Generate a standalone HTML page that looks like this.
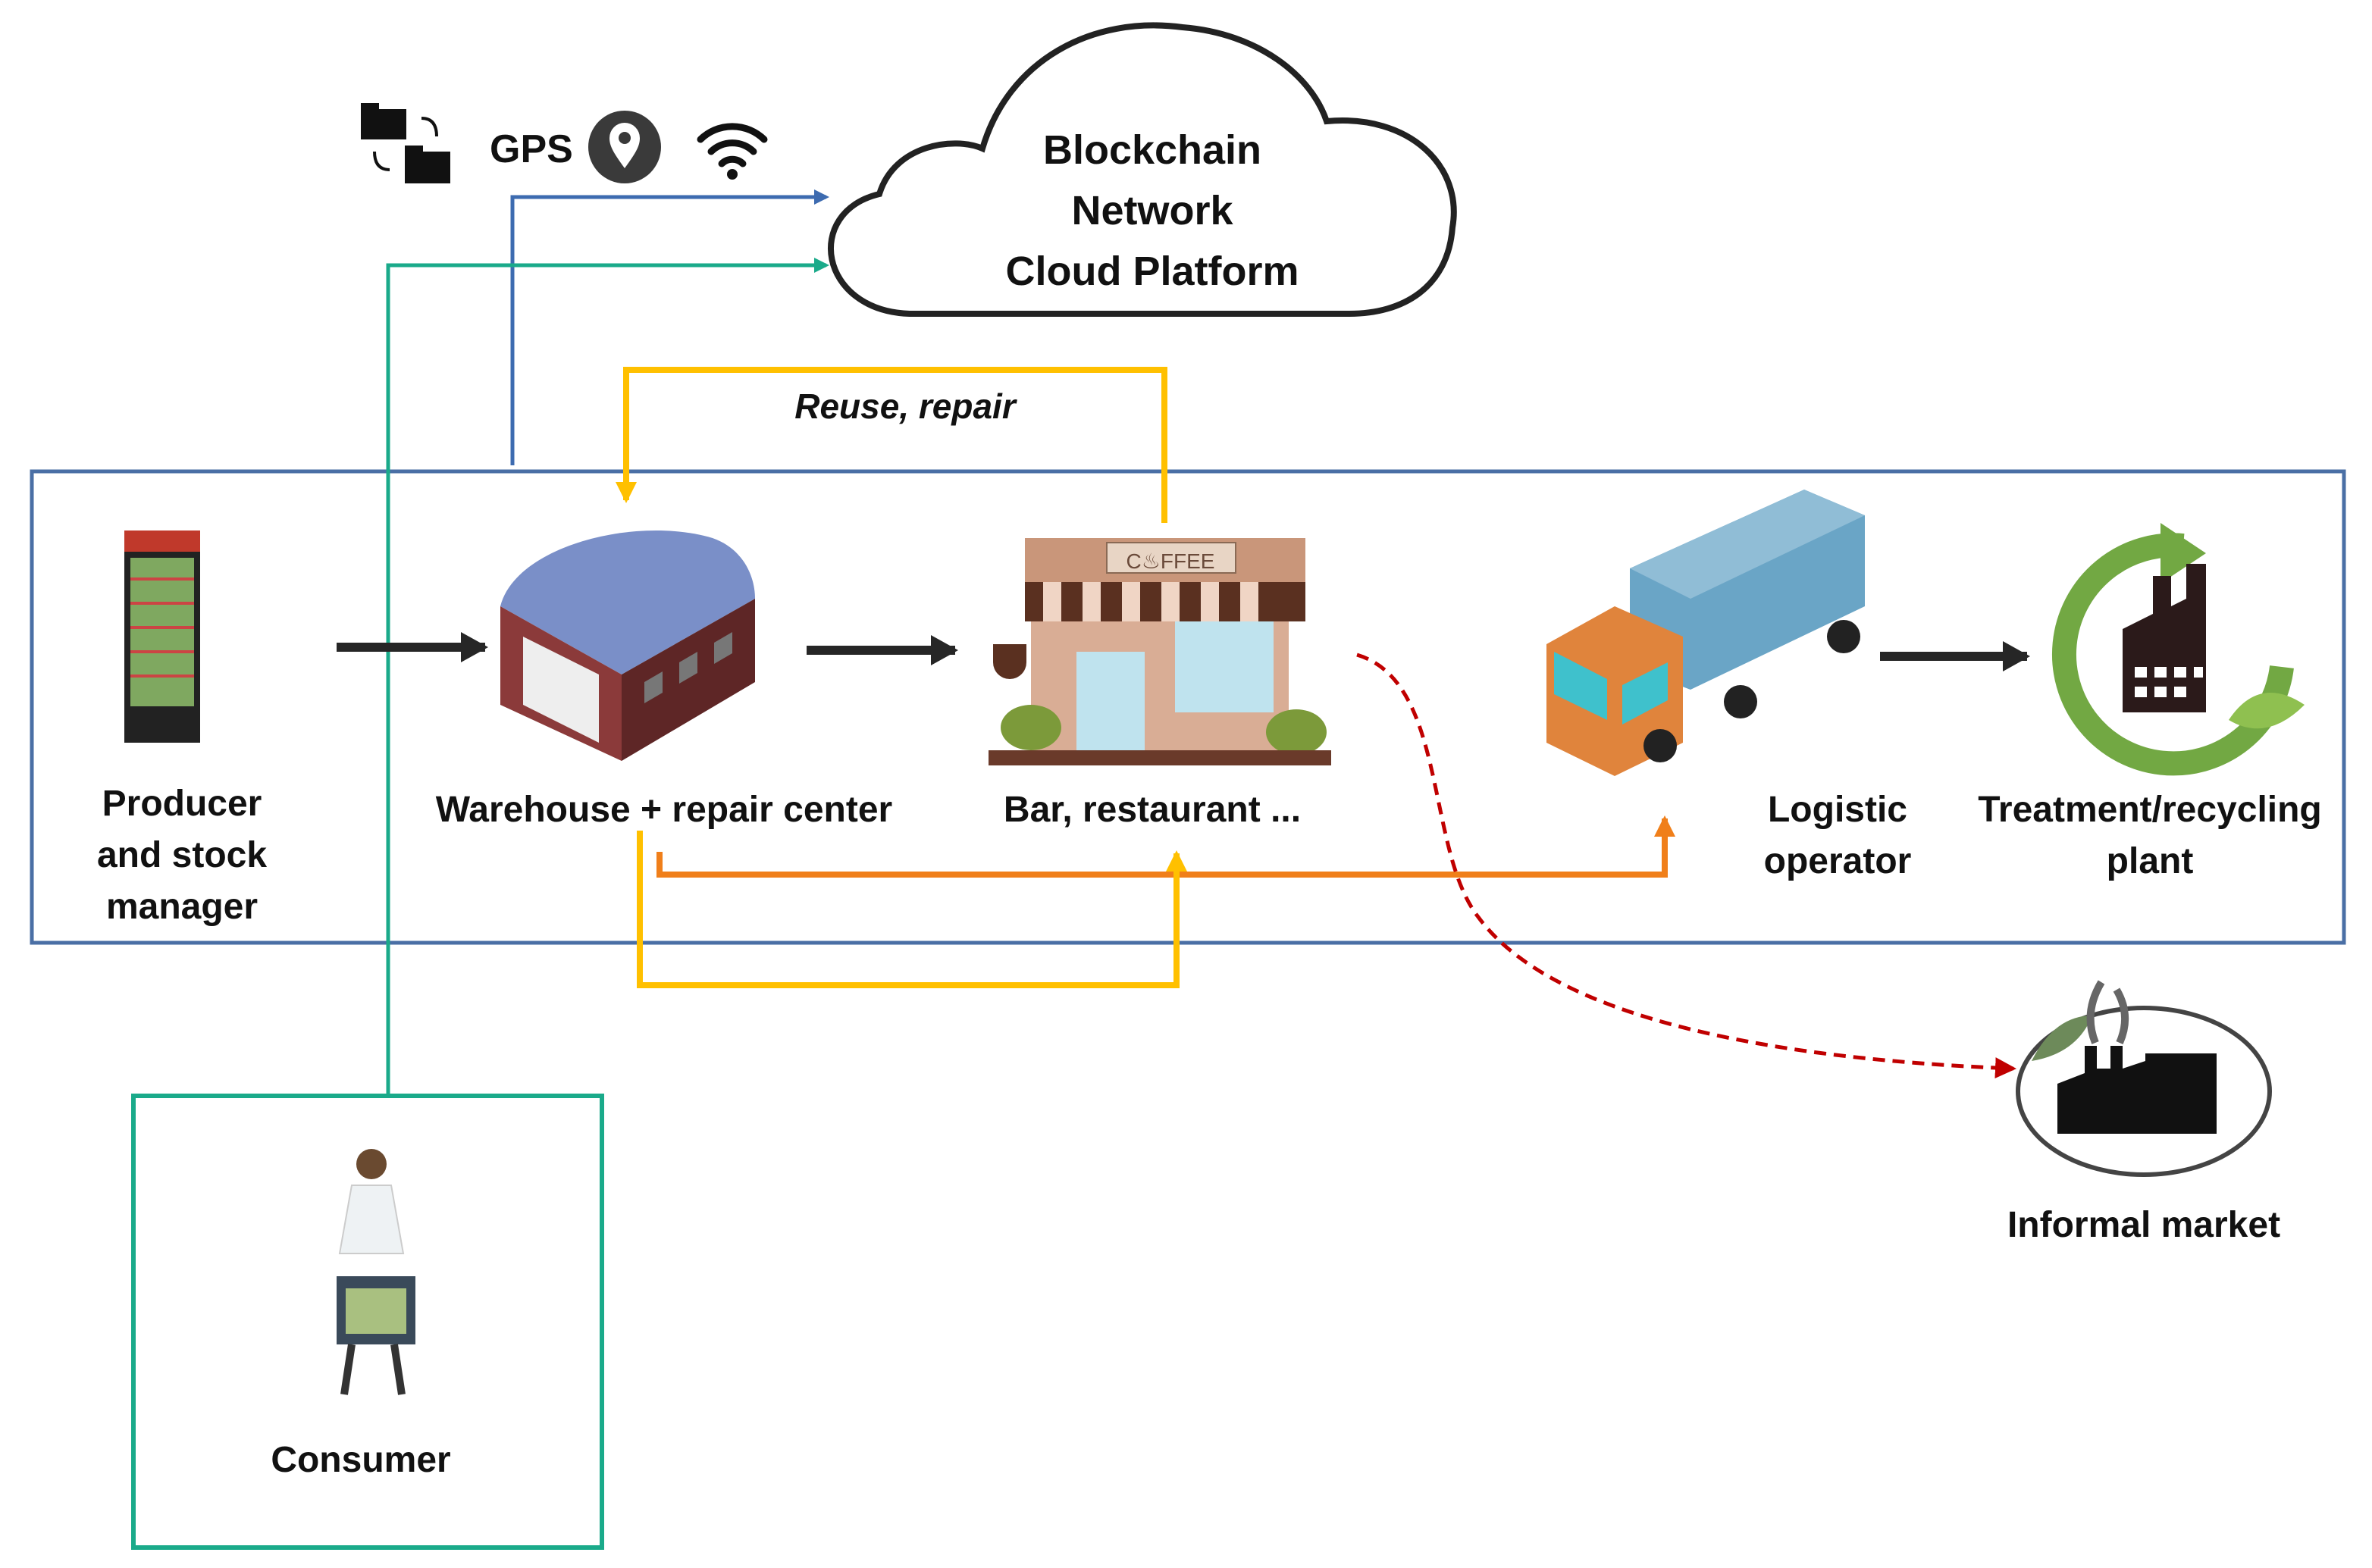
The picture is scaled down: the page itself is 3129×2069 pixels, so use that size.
<!DOCTYPE html>
<html><head><meta charset="utf-8"><style>html,body{margin:0;padding:0;background:#fff}svg{display:block}</style></head>
<body>
<svg width="3129" height="2069" viewBox="0 0 1564.5 1034.5" xmlns="http://www.w3.org/2000/svg" font-family="Liberation Sans, sans-serif">
<defs>
<marker id="ab" markerWidth="10" markerHeight="10" refX="8" refY="5" orient="auto" markerUnits="userSpaceOnUse"><path d="M0,0 L10,5 L0,10z" fill="#3d6bb0"/></marker>
<marker id="at" markerWidth="10" markerHeight="10" refX="8" refY="5" orient="auto" markerUnits="userSpaceOnUse"><path d="M0,0 L10,5 L0,10z" fill="#1aaa8a"/></marker>
<marker id="ay" markerWidth="14" markerHeight="14" refX="12" refY="7" orient="auto" markerUnits="userSpaceOnUse"><path d="M0,0 L14,7 L0,14z" fill="#ffc000"/></marker>
<marker id="ao" markerWidth="14" markerHeight="14" refX="12" refY="7" orient="auto" markerUnits="userSpaceOnUse"><path d="M0,0 L14,7 L0,14z" fill="#f07f1a"/></marker>
<marker id="ar" markerWidth="14" markerHeight="14" refX="12" refY="7" orient="auto" markerUnits="userSpaceOnUse"><path d="M0,0 L14,7 L0,14z" fill="#c00000"/></marker>
<marker id="ak" markerWidth="18" markerHeight="20" refX="16" refY="10" orient="auto" markerUnits="userSpaceOnUse"><path d="M0,0 L18,10 L0,20z" fill="#262626"/></marker>
</defs>
<rect width="1564.5" height="1034.5" fill="#fff"/>
<!-- main box -->
<rect x="21" y="311" width="1525" height="311" fill="none" stroke="#4a6fa5" stroke-width="2.5"/>
<!-- cloud -->
<path d="M600,207 C540,205 530,140 580,128 C590,95 630,90 648,98 C665,40 720,10 780,18 C830,22 865,50 875,80 C930,75 965,110 958,150 C955,190 925,207 890,207 Z" fill="#fff" stroke="#222" stroke-width="4"/>
<g font-weight="bold" font-size="27" text-anchor="middle" fill="#111">
<text x="760" y="108">Blockchain</text><text x="760" y="148">Network</text><text x="760" y="188">Cloud Platform</text></g>
<!-- icons -->
<rect x="238" y="72" width="30" height="20" fill="#111"/><rect x="238" y="68" width="12" height="6" fill="#111"/>
<rect x="267" y="100" width="30" height="21" fill="#111"/><rect x="267" y="96" width="12" height="6" fill="#111"/>
<path d="M278,78 q10,0 10,12" stroke="#111" stroke-width="2" fill="none"/><path d="M257,112 q-10,0 -10,-12" stroke="#111" stroke-width="2" fill="none"/>
<text x="323" y="107" font-weight="bold" font-size="26" fill="#111">GPS</text>
<circle cx="412" cy="97" r="24" fill="#3a3a3a"/><path d="M412,111 C404,100 402,96 402,91 a10,10 0 0 1 20,0 C422,96 420,100 412,111z" fill="#fff"/><circle cx="412" cy="91" r="4" fill="#3a3a3a"/>
<g fill="none" stroke="#111" stroke-width="4.5" stroke-linecap="round"><path d="M462,92 a30,30 0 0 1 42,0"/><path d="M469,100 a20,20 0 0 1 28,0"/><path d="M476,108 a10,10 0 0 1 14,0"/></g><circle cx="483" cy="115" r="3.5" fill="#111"/>
<!-- blue & teal lines -->
<path d="M338,307 V130 H545" fill="none" stroke="#3d6bb0" stroke-width="2.5" marker-end="url(#ab)"/>
<path d="M256,722 V175 H545" fill="none" stroke="#1aaa8a" stroke-width="2.5" marker-end="url(#at)"/>
<!-- reuse repair -->
<path d="M768,345 V244 H413 V330" fill="none" stroke="#ffc000" stroke-width="4" marker-end="url(#ay)"/>
<text x="597" y="276" font-weight="bold" font-style="italic" font-size="23" text-anchor="middle" fill="#111">Reuse, repair</text>
<!-- fridge -->
<rect x="82" y="350" width="50" height="140" fill="#222"/><rect x="82" y="350" width="50" height="14" fill="#c0392b"/>
<rect x="86" y="368" width="42" height="98" fill="#7fa860"/>
<g stroke="#c44" stroke-width="2"><line x1="86" y1="382" x2="128" y2="382"/><line x1="86" y1="398" x2="128" y2="398"/><line x1="86" y1="414" x2="128" y2="414"/><line x1="86" y1="430" x2="128" y2="430"/><line x1="86" y1="446" x2="128" y2="446"/></g>
<!-- warehouse -->
<path d="M330,400 C340,360 420,340 470,355 C490,362 498,380 498,395 L410,445 Z" fill="#7a8fc8"/>
<path d="M330,400 L410,445 L410,502 L330,465 Z" fill="#8b3a3a"/>
<path d="M410,445 L498,395 L498,450 L410,502 Z" fill="#5e2626"/>
<path d="M345,420 L395,445 L395,490 L345,465Z" fill="#eee"/>
<g fill="#777"><path d="M425,450 l12,-7 v14 l-12,7z"/><path d="M448,437 l12,-7 v14 l-12,7z"/><path d="M471,424 l12,-7 v14 l-12,7z"/></g>
<!-- coffee shop -->
<rect x="676" y="355" width="185" height="30" fill="#c9967a"/><rect x="730" y="358" width="85" height="20" fill="#e8d5c5" stroke="#8a6a55"/>
<text x="772" y="375" font-size="14" text-anchor="middle" fill="#6a4a3a">C♨FFEE</text>
<rect x="676" y="384" width="185" height="26" fill="#5a3020"/>
<g fill="#f0d5c5"><rect x="688" y="384" width="12" height="26"/><rect x="714" y="384" width="12" height="26"/><rect x="740" y="384" width="12" height="26"/><rect x="766" y="384" width="12" height="26"/><rect x="792" y="384" width="12" height="26"/><rect x="818" y="384" width="12" height="26"/></g>
<rect x="680" y="410" width="170" height="88" fill="#d9ad95"/>
<rect x="710" y="430" width="45" height="65" fill="#bfe3ee"/><rect x="775" y="410" width="65" height="60" fill="#bfe3ee"/>
<ellipse cx="680" cy="480" rx="20" ry="15" fill="#7c9a3a"/><ellipse cx="855" cy="483" rx="20" ry="15" fill="#7c9a3a"/>
<rect x="652" y="495" width="226" height="10" fill="#6a3a2a"/>
<path d="M655,425 h22 v12 a11,11 0 0 1 -22,0z" fill="#5a3020"/>
<!-- truck -->
<path d="M1075,375 L1190,323 L1230,340 L1230,400 L1115,455 L1075,440Z" fill="#6aa5c6"/>
<path d="M1075,375 L1190,323 L1230,340 L1115,395Z" fill="#90bdd6"/>
<path d="M1020,425 L1065,400 L1110,420 L1110,490 L1065,512 L1020,490Z" fill="#e0843c"/>
<path d="M1025,430 L1060,448 L1060,475 L1025,458Z" fill="#3fc1cc"/><path d="M1070,452 L1100,437 L1100,462 L1070,478Z" fill="#3fc1cc"/>
<circle cx="1095" cy="492" r="11" fill="#222"/><circle cx="1148" cy="463" r="11" fill="#222"/><circle cx="1216" cy="420" r="11" fill="#222"/>
<!-- recycling -->
<path d="M1440,360 A72,72 0 1 0 1505,440" fill="none" stroke="#72a843" stroke-width="16"/>
<path d="M1425,345 L1455,365 L1425,385Z" fill="#72a843"/>
<path d="M1400,470 V415 L1420,405 V380 H1432 V400 L1442,395 V372 H1455 V470Z" fill="#2b1a1a"/>
<g fill="#fff"><rect x="1408" y="440" width="8" height="7"/><rect x="1421" y="440" width="8" height="7"/><rect x="1434" y="440" width="8" height="7"/><rect x="1447" y="440" width="6" height="7"/><rect x="1408" y="453" width="8" height="7"/><rect x="1421" y="453" width="8" height="7"/><rect x="1434" y="453" width="8" height="7"/></g>
<path d="M1470,475 q20,-30 50,-10 q-25,25 -50,10z" fill="#8fc050"/>
<!-- black arrows -->
<g stroke="#262626" stroke-width="6"><line x1="222" y1="427" x2="320" y2="427" marker-end="url(#ak)"/><line x1="532" y1="429" x2="630" y2="429" marker-end="url(#ak)"/><line x1="1240" y1="433" x2="1337" y2="433" marker-end="url(#ak)"/></g>
<!-- labels -->
<g font-weight="bold" font-size="24" text-anchor="middle" fill="#111">
<text x="120" y="538">Producer</text><text x="120" y="572">and stock</text><text x="120" y="606">manager</text>
<text x="438" y="542">Warehouse + repair center</text>
<text x="760" y="542">Bar, restaurant ...</text>
<text x="1212" y="542">Logistic</text><text x="1212" y="576">operator</text>
<text x="1418" y="542">Treatment/recycling</text><text x="1418" y="576">plant</text>
<text x="1414" y="816">Informal market</text>
<text x="238" y="971">Consumer</text></g>
<!-- orange & yellow lower -->
<path d="M435,562 V577 H1098 V540" fill="none" stroke="#f07f1a" stroke-width="4" marker-end="url(#ao)"/>
<path d="M422,548 V650 H776 V563" fill="none" stroke="#ffc000" stroke-width="4" marker-end="url(#ay)"/>
<!-- red dashed -->
<path d="M895,432 C955,450 940,560 975,605 C1030,680 1200,700 1328,705" fill="none" stroke="#c00000" stroke-width="2.5" stroke-dasharray="8,5" marker-end="url(#ar)"/>
<!-- informal market -->
<ellipse cx="1414" cy="720" rx="83" ry="55" fill="none" stroke="#444" stroke-width="3"/>
<path d="M1357,748 V715 L1375,708 V690 H1383 V705 H1392 V690 H1400 V705 L1415,700 V695 H1462 V748Z" fill="#111"/>
<path d="M1340,700 q15,-30 40,-30 q-10,25 -40,30z" fill="#6d8a5a"/>
<path d="M1382,688 q-8,-20 4,-40 M1398,688 q8,-18 -2,-35" stroke="#666" stroke-width="5" fill="none"/>
<!-- consumer -->
<rect x="88" y="723" width="309" height="298" fill="none" stroke="#1aaa8a" stroke-width="3"/>
<circle cx="245" cy="768" r="10" fill="#6a4a30"/>
<path d="M232,782 h26 l8,45 h-42z" fill="#eef2f4" stroke="#ccc"/>
<rect x="222" y="842" width="52" height="45" fill="#3a4a5a"/><rect x="228" y="850" width="40" height="30" fill="#a9c080"/>
<path d="M232,887 l-5,33 M260,887 l5,33" stroke="#333" stroke-width="5"/>
</svg>
</body></html>
